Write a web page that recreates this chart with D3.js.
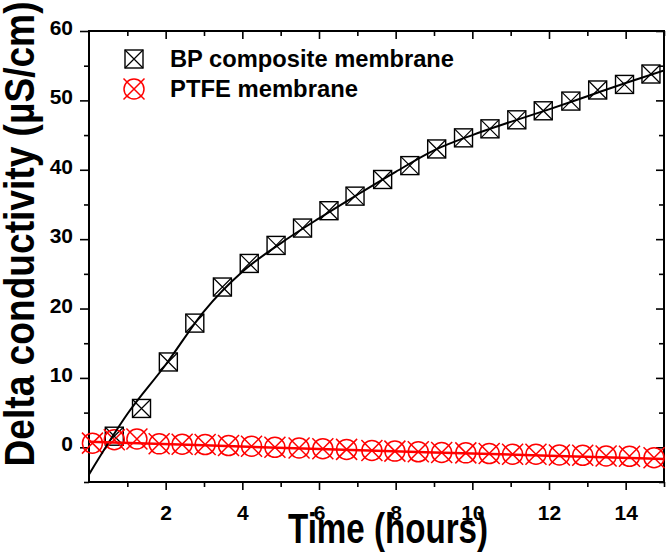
<!DOCTYPE html>
<html>
<head>
<meta charset="utf-8">
<script src="https://cdn.jsdelivr.net/npm/d3@7"></script>
<style>
  body { margin: 0; background: #fff; }
  text { font-family: "Liberation Sans", Arial, sans-serif; font-weight: bold; }
</style>
</head>
<body>
<svg id="chart"></svg>
<script>
// values
const bpTime = [0.66, 1.37, 2.07, 2.76, 3.48, 4.18, 4.88, 5.57, 6.26, 6.94, 7.66, 8.37, 9.07, 9.77, 10.46, 11.16, 11.85, 12.57, 13.27, 13.97, 14.66];
const bpDelta = [1.6, 5.6, 12.3, 17.9, 23.1, 26.5, 29.1, 31.6, 34.1, 36.2, 38.6, 40.6, 43.0, 44.6, 45.9, 47.2, 48.5, 49.9, 51.5, 52.3, 53.8];
const ptfeTime = [0.09, 0.66, 1.25, 1.83, 2.43, 3.03, 3.64, 4.24, 4.85, 5.48, 6.1, 6.72, 7.38, 7.98, 8.59, 9.2, 9.83, 10.44, 11.05, 11.66, 12.27, 12.88, 13.49, 14.1, 14.74];
const ptfeDelta = [0.6, 1.1, 1.2, 0.5, 0.45, 0.4, 0.25, 0.15, 0.0, -0.1, -0.2, -0.3, -0.45, -0.55, -0.65, -0.75, -0.8, -0.9, -1.0, -1.0, -1.1, -1.15, -1.25, -1.3, -1.5];

// fitted curves, read at a few points
const bpFitTime = [0, 1, 2, 3, 4, 5, 6, 7, 8, 9, 10, 11, 12, 13, 14, 15];
const bpFitDelta = [-3.9, 4.8, 11.9, 19.6, 25.3, 29.4, 33.0, 36.4, 39.7, 42.8, 45.0, 46.9, 48.7, 50.6, 52.5, 54.3];
const ptfeFitTime = [0, 3, 6, 9, 12, 15];
const ptfeFitDelta = [0.8, 0.3, -0.25, -0.75, -1.2, -1.7];

const xTickLabels = [2, 4, 6, 8, 10, 12, 14];
const xMinorTicks = [1, 3, 5, 7, 9, 11, 13, 15];
const yTickLabels = [0, 10, 20, 30, 40, 50, 60];
const yMinorTicks = [-5, 5, 15, 25, 35, 45, 55];

const seriesNames = ['BP composite membrane', 'PTFE membrane'];

const width = 666, height = 557;
const margin = {left: 89, right: 2, top: 31, bottom: 75};
const innerW = width - margin.left - margin.right;
const innerH = height - margin.top - margin.bottom;

const svg = d3.select('#chart')
  .attr('width', width)
  .attr('height', height);

const g = svg.append('g')
  .attr('transform', `translate(${margin.left}, ${margin.top})`);

const xScale = d3.scaleLinear().domain([0, 15]).range([0, innerW]);
const yScale = d3.scaleLinear().domain([-5, 60]).range([innerH, 0]);

const styleAxis = sel => {
  sel.selectAll('.domain').remove();
  sel.selectAll('.tick line').attr('stroke', '#000').attr('stroke-width', 1.6);
  sel.selectAll('text')
    .attr('font-size', 21)
    .attr('fill', '#000')
    .attr('font-family', '"Liberation Sans", Arial, sans-serif')
    .attr('font-weight', 'bold');
};

// bottom axis, ticks outward
g.append('g')
  .attr('transform', `translate(0, ${innerH})`)
  .call(d3.axisBottom(xScale).tickValues(xTickLabels).tickSize(8).tickPadding(15))
  .call(styleAxis);
g.append('g')
  .attr('transform', `translate(0, ${innerH})`)
  .call(d3.axisBottom(xScale).tickValues(xMinorTicks).tickSize(5).tickFormat(''))
  .call(styleAxis);

// left axis, ticks outward
g.append('g')
  .call(d3.axisLeft(yScale).tickValues(yTickLabels).tickSize(9).tickPadding(7))
  .call(styleAxis)
  .selectAll('text').attr('dy', '0.17em');
g.append('g')
  .call(d3.axisLeft(yScale).tickValues(yMinorTicks).tickSize(5).tickFormat(''))
  .call(styleAxis);

// top and right, ticks inward, no labels
g.append('g')
  .call(d3.axisTop(xScale).tickValues(xTickLabels).tickSize(-8).tickFormat(''))
  .call(styleAxis);
g.append('g')
  .call(d3.axisTop(xScale).tickValues(xMinorTicks).tickSize(-5).tickFormat(''))
  .call(styleAxis);
g.append('g')
  .attr('transform', `translate(${innerW}, 0)`)
  .call(d3.axisRight(yScale).tickValues(yTickLabels).tickSize(-8).tickFormat(''))
  .call(styleAxis);
g.append('g')
  .attr('transform', `translate(${innerW}, 0)`)
  .call(d3.axisRight(yScale).tickValues(yMinorTicks).tickSize(-5).tickFormat(''))
  .call(styleAxis);

// frame
g.append('rect')
  .attr('width', innerW)
  .attr('height', innerH)
  .attr('fill', 'none')
  .attr('stroke', '#000')
  .attr('stroke-width', 2);

// markers
const sq = 9;
const squareX = (sel, color) => {
  sel.append('rect')
    .attr('x', -sq).attr('y', -sq)
    .attr('width', 2 * sq).attr('height', 2 * sq)
    .attr('fill', 'none').attr('stroke', color).attr('stroke-width', 1.4);
  sel.append('path')
    .attr('d', `M${-sq},${-sq}L${sq},${sq}M${-sq},${sq}L${sq},${-sq}`)
    .attr('stroke', color).attr('stroke-width', 1.2);
};
const cr = 10, cx = 10.5;
const circleX = (sel, color) => {
  sel.append('circle')
    .attr('r', cr)
    .attr('fill', 'none').attr('stroke', color).attr('stroke-width', 1.5);
  sel.append('path')
    .attr('d', `M${-cx},${-cx}L${cx},${cx}M${-cx},${cx}L${cx},${-cx}`)
    .attr('stroke', color).attr('stroke-width', 1.5);
};

const bpData = bpTime.map((t, i) => ({t, v: bpDelta[i]}));
const ptfeData = ptfeTime.map((t, i) => ({t, v: ptfeDelta[i]}));

g.append('g').selectAll('g')
  .data(bpData)
  .join('g')
    .attr('transform', d => `translate(${xScale(d.t)}, ${yScale(d.v)})`)
    .each(function() { squareX(d3.select(this), '#000'); });

g.append('g').selectAll('g')
  .data(ptfeData)
  .join('g')
    .attr('transform', d => `translate(${xScale(d.t)}, ${yScale(d.v)})`)
    .each(function() { circleX(d3.select(this), '#ff0000'); });

// fit lines, clipped to plot
svg.append('defs').append('clipPath').attr('id', 'plot-clip')
  .append('rect').attr('width', innerW).attr('height', innerH);

const line = d3.line()
  .x(d => xScale(d.t))
  .y(d => yScale(d.v))
  .curve(d3.curveMonotoneX);

const linesG = g.append('g').attr('clip-path', 'url(#plot-clip)');
linesG.append('path')
  .datum(bpFitTime.map((t, i) => ({t, v: bpFitDelta[i]})))
  .attr('d', line)
  .attr('fill', 'none').attr('stroke', '#000').attr('stroke-width', 2);
linesG.append('path')
  .datum(ptfeFitTime.map((t, i) => ({t, v: ptfeFitDelta[i]})))
  .attr('d', line)
  .attr('fill', 'none').attr('stroke', '#ff0000').attr('stroke-width', 2.5);

// legend
const legend = svg.append('g');
const legendRows = [
  {name: seriesNames[0], y: 59, draw: s => squareX(s, '#000'), len: 284},
  {name: seriesNames[1], y: 89, draw: s => circleX(s, '#ff0000'), len: 188},
];
legendRows.forEach(r => {
  const mark = legend.append('g').attr('transform', `translate(134, ${r.y})`);
  r.draw(mark);
  legend.append('text')
    .attr('x', 170)
    .attr('y', r.y + 8)
    .attr('font-size', 24)
    .attr('textLength', r.len)
    .attr('lengthAdjust', 'spacingAndGlyphs')
    .text(r.name);
});

// axis titles
svg.append('text')
  .attr('x', margin.left + xScale(7.8))
  .attr('y', 543)
  .attr('text-anchor', 'middle')
  .attr('font-size', 42)
  .attr('textLength', 200)
  .attr('lengthAdjust', 'spacingAndGlyphs')
  .text('Time (hours)');

svg.append('text')
  .attr('transform', 'translate(34, 234) rotate(-90)')
  .attr('text-anchor', 'middle')
  .attr('font-size', 42)
  .attr('textLength', 465)
  .attr('lengthAdjust', 'spacingAndGlyphs')
  .text('Delta conductivity (µS/cm)');
</script>
</body>
</html>
